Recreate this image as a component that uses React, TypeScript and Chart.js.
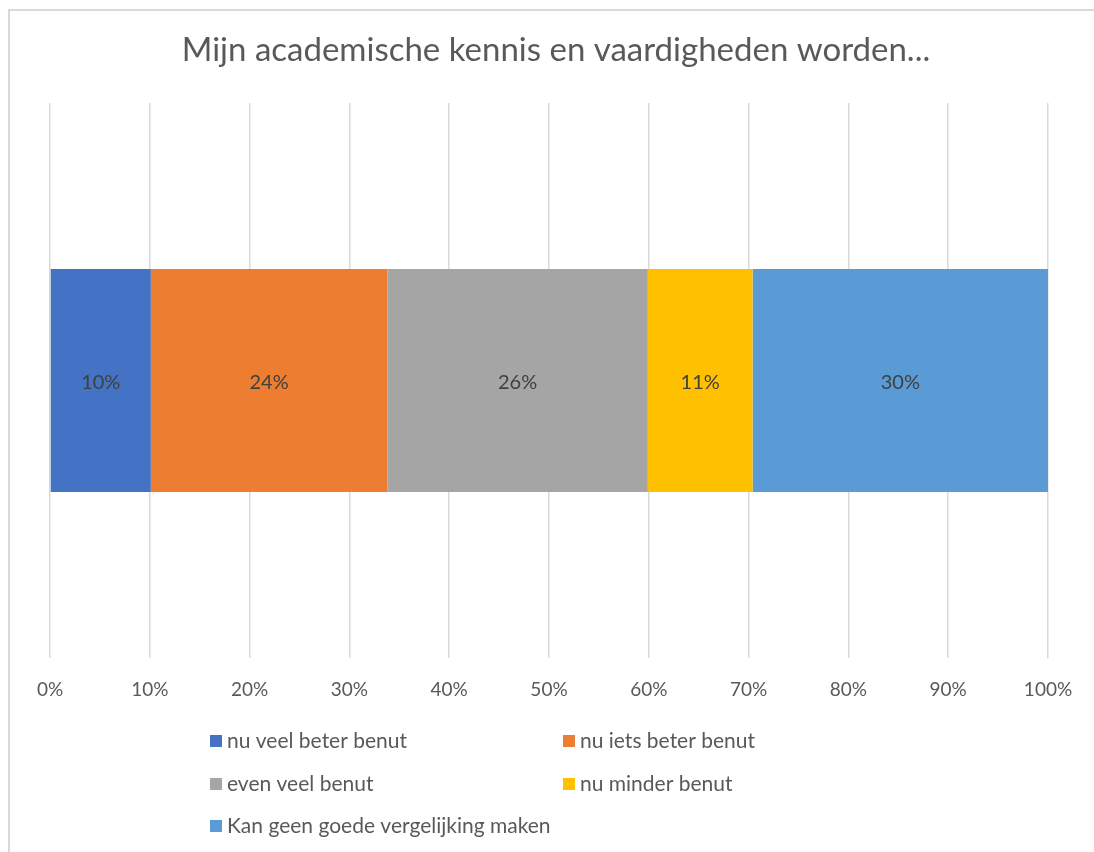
import React, { useEffect, useRef } from 'react';
import { Chart, registerables } from 'chart.js';

Chart.register(...registerables);

const chartTitle = 'Mijn academische kennis en vaardigheden worden...';
const categories = [''];
const seriesNames = [
  'nu veel beter benut',
  'nu iets beter benut',
  'even veel benut',
  'nu minder benut',
  'Kan geen goede vergelijking maken',
];
const seriesValues = [10.1, 23.7, 26.1, 10.5, 29.6];
const seriesColors = ['#4472C4', '#ED7D31', '#A5A5A5', '#FFC000', '#5B9BD5'];
const tickValues = [0, 10, 20, 30, 40, 50, 60, 70, 80, 90, 100];

const FONT = 'Lato, "Open Sans", sans-serif';
const TEXT = '#595959';

const titlePlugin = {
  id: 'customTitle',
  afterDraw(chart: any) {
    const ctx = chart.ctx;
    ctx.save();
    ctx.font = `33px ${FONT}`;
    ctx.fillStyle = TEXT;
    ctx.textAlign = 'center';
    ctx.textBaseline = 'middle';
    ctx.fillText(chartTitle, 556, 50);
    ctx.restore();
  },
};

const dataLabelPlugin = {
  id: 'dataLabels',
  afterDatasetsDraw(chart: any) {
    const ctx = chart.ctx;
    ctx.save();
    ctx.font = `20px ${FONT}`;
    ctx.fillStyle = '#404040';
    ctx.textAlign = 'center';
    ctx.textBaseline = 'middle';
    chart.data.datasets.forEach((ds: any, i: number) => {
      const meta = chart.getDatasetMeta(i);
      meta.data.forEach((el: any, j: number) => {
        const v = ds.data[j];
        const cx = (el.x + el.base) / 2;
        ctx.fillText(Math.round(v) + '%', cx, el.y + 2);
      });
    });
    ctx.restore();
  },
};

const legendPlugin = {
  id: 'gridLegend',
  afterDraw(chart: any) {
    const ctx = chart.ctx;
    const colX = [210, 563];
    const rowY = [741, 784, 826];
    ctx.save();
    ctx.font = `21px ${FONT}`;
    ctx.textBaseline = 'middle';
    ctx.textAlign = 'left';
    chart.data.datasets.forEach((ds: any, i: number) => {
      const x = colX[i % 2];
      const y = rowY[Math.floor(i / 2)];
      ctx.fillStyle = ds.backgroundColor;
      ctx.fillRect(x, y - 6, 12, 12);
      ctx.fillStyle = TEXT;
      ctx.fillText(ds.label, x + 17, y);
    });
    ctx.restore();
  },
};

export default function App() {
  const ref = useRef<HTMLCanvasElement>(null);
  useEffect(() => {
    if (!ref.current) return;
    const chart = new Chart(ref.current, {
      type: 'bar',
      data: {
        labels: categories,
        datasets: seriesNames.map((name, i) => ({
          label: name,
          data: [seriesValues[i]],
          backgroundColor: seriesColors[i],
          borderWidth: 0,
          barPercentage: 0.402,
          categoryPercentage: 1,
        })),
      },
      options: {
        indexAxis: 'y',
        animation: false,
        responsive: false,
        maintainAspectRatio: false,
        layout: { padding: { left: 50, right: 46, top: 103, bottom: 134 } },
        plugins: {
          legend: { display: false },
          title: { display: false },
          tooltip: { enabled: false },
        },
        scales: {
          x: {
            stacked: true,
            min: 0,
            max: 100,
            afterBuildTicks: (scale: any) => {
              scale.ticks = tickValues.map((v) => ({ value: v }));
            },
            afterFit: (scale: any) => {
              scale.height = 60;
            },
            ticks: {
              callback: (v: any) => v + '%',
              color: TEXT,
              font: { family: FONT, size: 19 },
              padding: 20,
              maxRotation: 0,
              autoSkip: false,
            },
            grid: { color: '#d9d9d9', lineWidth: 1.5, drawTicks: false },
            border: { display: false },
          },
          y: {
            stacked: true,
            display: false,
          },
        },
      },
      plugins: [titlePlugin, dataLabelPlugin, legendPlugin],
    });
    return () => chart.destroy();
  }, []);

  return (
    <div style={{ position: 'absolute', left: 0, top: 0, width: 1094, height: 852, background: '#fff', overflow: 'hidden' }}>
      <div
        style={{
          position: 'absolute',
          left: 8,
          top: 9,
          width: 1094,
          height: 852,
          borderTop: '2px solid #d9d9d9',
          borderLeft: '2px solid #d9d9d9',
        }}
      />
      <canvas ref={ref} width={1094} height={852} style={{ position: 'absolute', left: 0, top: 0 }} />
    </div>
  );
}
